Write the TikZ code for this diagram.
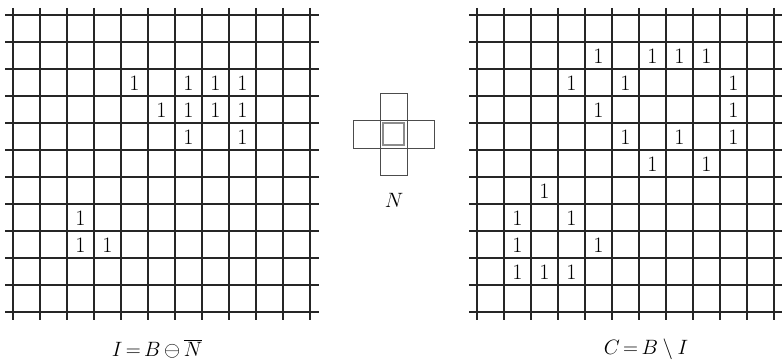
\documentclass[tikz,border=0pt]{standalone}
\tikzset{
  gridline/.style={line width=1.35pt, black!85},
  one/.style={font=\fontsize{22}{26}\selectfont, inner sep=0pt},
  lbl/.style={font=\fontsize{22}{26}\selectfont, inner sep=0pt},
  selem/.style={line width=1pt, black!70},
  selemc/.style={line width=2.2pt, black!45}
}
\begin{document}
\begin{tikzpicture}[x=1pt,y=-1pt]
\useasboundingbox (0,0) rectangle (782,361);
\def\s{27}
% left grid
\foreach \k in {0,...,11} {
  \draw[gridline] ({13+\k*\s},8) -- ({13+\k*\s},320);
  \draw[gridline] (5,{15+\k*\s}) -- (319,{15+\k*\s});
}
% right grid
\foreach \k in {0,...,11} {
  \draw[gridline] ({477+\k*\s},8) -- ({477+\k*\s},320);
  \draw[gridline] (469,{15+\k*\s}) -- (782,{15+\k*\s});
}
% left ones
\foreach \c/\r [count=\i] in {4/2,6/2,7/2,8/2,5/3,6/3,7/3,8/3,6/4,8/4,2/7,2/8,3/8}
  \node[one] (L\i) at ({13+(\c+0.5)*\s},{16+(\r+0.5)*\s}) {1};
% right ones
\foreach \c/\r [count=\i] in {4/1,6/1,7/1,8/1,3/2,5/2,9/2,4/3,9/3,5/4,7/4,9/4,6/5,8/5,2/6,1/7,3/7,1/8,4/8,1/9,2/9,3/9}
  \node[one] (R\i) at ({477+(\c+0.5)*\s},{16+(\r+0.5)*\s}) {1};
% structuring element
\draw[selem] (380,93) rectangle (407,120);
\draw[selem] (353,120) rectangle (380,148);
\draw[selem] (407,120) rectangle (434,148);
\draw[selem] (380,148) rectangle (407,175);
\draw[selem] (380,120) rectangle (407,148);
\draw[selemc] (383,123) rectangle (404,145);
% labels
\node[lbl] (lblN) at (394,200) {$N$};
\node[lbl] (lblI) at (157,349) {$I\mkern-2mu=\mkern-2mu B\mkern-1mu\ominus\mkern-1mu\overline{N}$};
\node[lbl] (lblC) at (646,349) {$C\mkern-2mu=\mkern-2mu B\setminus I$};
\end{tikzpicture}
\end{document}
